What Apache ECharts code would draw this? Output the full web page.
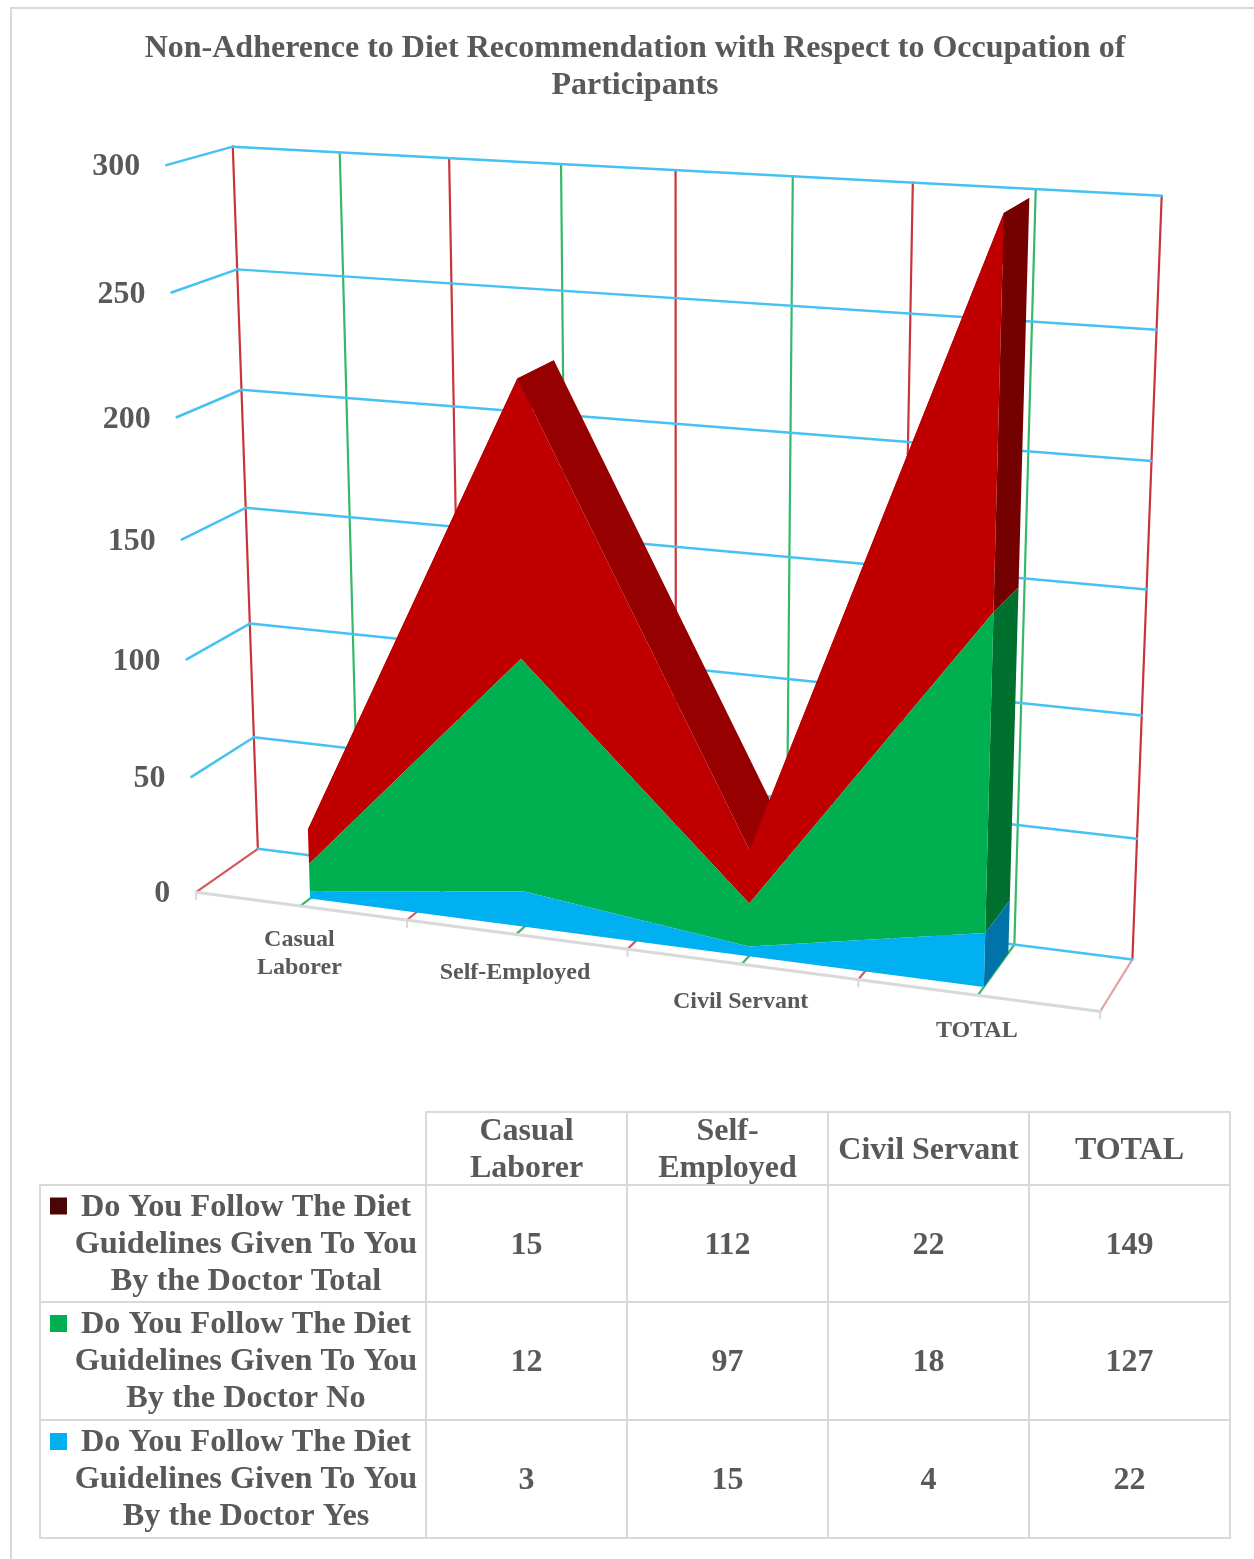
<!DOCTYPE html>
<html>
<head>
<meta charset="utf-8">
<title>Non-Adherence to Diet Recommendation</title>
<style>
  html, body { margin: 0; padding: 0; background: #fff; }
  #chart { width: 1254px; height: 1559px; }
</style>
<script src="https://cdn.jsdelivr.net/npm/echarts@6/dist/echarts.min.js"></script>
</head>
<body>
<div id="chart"></div>
<script>
// Survey counts by occupation
const categories = ['Casual Laborer', 'Self-Employed', 'Civil Servant', 'TOTAL'];
const axisLabels = ['Casual\nLaborer', 'Self-Employed', 'Civil Servant', 'TOTAL'];
const tableHeaders = ['Casual\nLaborer', 'Self-\nEmployed', 'Civil Servant', 'TOTAL'];
const yesValues = [3, 15, 4, 22];
const noValues = [12, 97, 18, 127];
const totalValues = [15, 112, 22, 149];
const valueTicks = [0, 50, 100, 150, 200, 250, 300];
const titleText = 'Non-Adherence to Diet Recommendation with Respect to Occupation of\nParticipants';
const yesLabel = ['Do You Follow The Diet', 'Guidelines Given To You', 'By the Doctor Yes'];
const noLabel = ['Do You Follow The Diet', 'Guidelines Given To You', 'By the Doctor No'];
const totalLabel = ['Do You Follow The Diet', 'Guidelines Given To You', 'By the Doctor Total'];

// Palette
const INK = '#595959';
const RULE = '#d9d9d9';
const GRID_BLUE = '#45c1f2';
const WALL_RED = '#c9333a';
const WALL_GREEN = '#36b868';
const FLOOR_RED = '#d4585c';
const FLOOR_PALE = '#e3a3a5';
const SERIF = '"Liberation Serif", "Times New Roman", serif';

// Flat plotting range of the hidden cartesian axes; the camera below tilts it into 3D.
const FLAT = { w: 400, h: 300, uMax: 4 };
const DEPTH_FRONT = 0.16;
const DEPTH_BACK = 0.83;

// Camera calibration: [u, v, w] box coordinates (u 0-4 across, v 0-1 up, w 0-1 deep) and where they land.
const CAMERA_ANCHORS = [
  [0, 0, 0, 195, 892], [4, 0, 0, 1100, 1012], [0, 0, 1, 258, 849], [4, 0, 1, 1132, 960],
  [0, 1, 1, 234, 146], [4, 1, 1, 1162, 195], [0, 1, 0, 166, 166], [2, 1, 1, 675, 170],
  [2, 0, 0, 630, 947], [1, 0, 0, 407, 920], [3, 0, 0, 858, 980], [0, 0.5, 1, 245.5, 508],
  [4, 0.5, 1, 1146, 590], [0, 0.5, 0, 181, 540]
];

function solveCamera(anchors) {
  const n = 11;
  const A = Array.from({ length: n }, () => new Array(n + 1).fill(0));
  const addRow = (r, b) => {
    for (let i = 0; i < n; i++) {
      for (let j = 0; j < n; j++) A[i][j] += r[i] * r[j];
      A[i][n] += r[i] * b;
    }
  };
  anchors.forEach(([u, v, w, sx, sy]) => {
    const x = u / 4, X = sx / 1000, Y = sy / 1000;
    addRow([x, v, w, 1, 0, 0, 0, 0, -X * x, -X * v, -X * w], X);
    addRow([0, 0, 0, 0, x, v, w, 1, -Y * x, -Y * v, -Y * w], Y);
  });
  for (let c = 0; c < n; c++) {
    let p = c;
    for (let r = c + 1; r < n; r++) if (Math.abs(A[r][c]) > Math.abs(A[p][c])) p = r;
    [A[c], A[p]] = [A[p], A[c]];
    for (let r = 0; r < n; r++) {
      if (r === c) continue;
      const f = A[r][c] / A[c][c];
      for (let k = c; k <= n; k++) A[r][k] -= f * A[c][k];
    }
  }
  return A.map((row, i) => row[n] / row[i]);
}
const CAM = solveCamera(CAMERA_ANCHORS);

// Takes a pixel from the flat axes plus a depth and returns its position on the tilted box.
function tilt(flat, w) {
  const x = flat[0] / FLAT.w;
  const v = (FLAT.h - flat[1]) / FLAT.h;
  const d = CAM[8] * x + CAM[9] * v + CAM[10] * w + 1;
  return [
    1000 * (CAM[0] * x + CAM[1] * v + CAM[2] * w + CAM[3]) / d,
    1000 * (CAM[4] * x + CAM[5] * v + CAM[6] * w + CAM[7]) / d
  ];
}

const seg = (a, b, stroke, lineWidth) => ({
  type: 'line',
  shape: { x1: a[0], y1: a[1], x2: b[0], y2: b[1] },
  style: { stroke, lineWidth, lineCap: 'round' }
});
const poly = (points, fill) => ({ type: 'polygon', shape: { points }, style: { fill } });
const label = (x, y, text, size, align, lineHeight) => ({
  type: 'text',
  style: {
    x, y, text, fill: INK, align: align || 'center', verticalAlign: 'middle',
    font: 'bold ' + size + 'px ' + SERIF, lineHeight: lineHeight || Math.round(size * 1.12)
  }
});

// Cumulative layers, bottom to top
const stackBlue = yesValues.map(v => v);
const stackGreen = yesValues.map((v, i) => v + noValues[i]);
const stackRed = stackGreen.map((v, i) => v + totalValues[i]);
const layers = [
  { lower: categories.map(() => 0), upper: stackBlue, front: '#00b0f0', end: '#0073a8' },
  { lower: stackBlue, upper: stackGreen, front: '#00b050', end: '#00702f' },
  { lower: stackGreen, upper: stackRed, front: '#c00000', end: '#750000', top: '#960000' }
];

// Walls, floor and gridlines behind the areas
function renderBox(params, api) {
  const at = (u, val, w) => tilt(api.coord([u, val]), w);
  const out = [];
  const vMax = valueTicks[valueTicks.length - 1];
  for (let u = 0; u <= 8; u++) {
    const pos = u / 2, odd = u % 2 === 1;
    out.push(seg(at(pos, 0, 1), at(pos, vMax, 1), odd ? WALL_GREEN : WALL_RED, 2.2));
    const floorColour = odd ? WALL_GREEN : (u === 8 ? FLOOR_PALE : FLOOR_RED);
    out.push(seg(at(pos, 0, 0), at(pos, 0, 1), floorColour, 2.2));
  }
  valueTicks.forEach(t => {
    out.push(seg(at(0, t, 1), at(4, t, 1), GRID_BLUE, 2.5));
    if (t > 0) out.push(seg(at(0, t, 0), at(0, t, 1), GRID_BLUE, 2.5));
  });
  out.push(seg(at(0, 0, 0), at(4, 0, 0), RULE, 3));
  for (let u = 0; u <= 4; u++) {
    const p = at(u, 0, 0);
    out.push(seg(p, [p[0], p[1] + 7], RULE, 2));
  }
  return { type: 'group', children: out };
}

// Sloped top of the uppermost layer, seen behind its front face
function renderTop(params, api) {
  const layer = layers[2];
  const children = [];
  for (let i = 0; i < categories.length - 1; i++) {
    const a = api.coord([i + 0.5, layer.upper[i]]);
    const b = api.coord([i + 1.5, layer.upper[i + 1]]);
    children.push(poly([tilt(a, DEPTH_FRONT), tilt(a, DEPTH_BACK), tilt(b, DEPTH_BACK), tilt(b, DEPTH_FRONT)], layer.top));
  }
  return { type: 'group', children };
}

// One front face and the end cap at the last category
function renderLayer(params, api) {
  const layer = layers[api.value(0)];
  const n = categories.length;
  const upper = layer.upper.map((v, i) => tilt(api.coord([i + 0.5, v]), DEPTH_FRONT));
  const lower = layer.lower.map((v, i) => tilt(api.coord([i + 0.5, v]), DEPTH_FRONT)).reverse();
  const lastHi = api.coord([n - 0.5, layer.upper[n - 1]]);
  const lastLo = api.coord([n - 0.5, layer.lower[n - 1]]);
  return {
    type: 'group',
    children: [
      poly([tilt(lastHi, DEPTH_FRONT), tilt(lastHi, DEPTH_BACK), tilt(lastLo, DEPTH_BACK), tilt(lastLo, DEPTH_FRONT)], layer.end),
      poly(upper.concat(lower), layer.front)
    ]
  };
}

// Value and category labels placed next to the front edge of the box
const CATEGORY_LABEL_DROP = [39, 38, 38, 35];
function renderAxisText(params, api) {
  const out = [];
  valueTicks.forEach(t => {
    const p = tilt(api.coord([0, t]), 0);
    out.push(label(p[0] - 26, p[1] + 2, String(t), 32, 'right'));
  });
  axisLabels.forEach((name, i) => {
    const p = tilt(api.coord([i + 0.5, 0]), 0);
    const lines = name.split('\n').length;
    out.push(label(p[0] - 1, p[1] + CATEGORY_LABEL_DROP[i] + (lines - 1) * 9, name, 24, 'center', 28));
  });
  return { type: 'group', children: out };
}

// Data table under the chart
const TABLE = { x: [40, 426, 627, 828, 1029, 1230], y: [1112, 1185, 1302, 1420, 1538], lineStep: 37, keyX: 50, keySize: 17 };
const tableRows = [
  { lines: totalLabel, values: totalValues, key: '#4a0505' },
  { lines: noLabel, values: noValues, key: '#00b050' },
  { lines: yesLabel, values: yesValues, key: '#00b0f0' }
];

function renderTable() {
  const { x, y, lineStep, keyX, keySize } = TABLE;
  const out = [];
  const lastX = x[x.length - 1], lastY = y[y.length - 1];
  out.push(seg([x[1], y[0]], [lastX, y[0]], RULE, 2));
  y.slice(1).forEach(v => out.push(seg([x[0], v], [lastX, v], RULE, 2)));
  out.push(seg([x[0], y[1]], [x[0], lastY], RULE, 2));
  x.slice(1).forEach(v => out.push(seg([v, y[0]], [v, lastY], RULE, 2)));

  const mid = i => (x[i] + x[i + 1]) / 2;
  tableHeaders.forEach((h, c) => {
    const cy = (y[0] + y[1]) / 2;
    const parts = h.split('\n');
    parts.forEach((t, k) => out.push(label(mid(c + 1), cy + 2 + (k - (parts.length - 1) / 2) * lineStep, t, 32)));
  });
  tableRows.forEach((row, r) => {
    const cy = (y[r + 1] + y[r + 2]) / 2;
    row.lines.forEach((t, k) => out.push(label(246, cy + 1 + (k - 1) * lineStep, t, 32.3)));
    out.push({
      type: 'rect',
      shape: { x: keyX, y: cy - lineStep - keySize / 2 - 0.5, width: keySize, height: keySize },
      style: { fill: row.key }
    });
    row.values.forEach((v, c) => out.push(label(mid(c + 1), cy + 2, String(v), 32)));
  });
  return { type: 'group', children: out };
}

// Chart frame: only its top and left edges fall on the page
function renderFrame() {
  return {
    type: 'group',
    children: [seg([11, 8], [1254, 8], RULE, 2), seg([11, 8], [11, 1559], RULE, 2)]
  };
}

const chart = echarts.init(document.getElementById('chart'), null, { renderer: 'canvas' });
const onAxes = { type: 'custom', coordinateSystem: 'cartesian2d', silent: true, clip: false };
chart.setOption({
  animation: false,
  backgroundColor: '#ffffff',
  title: {
    text: titleText,
    left: 630,
    top: 25,
    textAlign: 'center',
    textStyle: { fontFamily: SERIF, fontWeight: 'bold', fontSize: 32, color: INK, lineHeight: 37 }
  },
  grid: { left: 0, top: 0, width: FLAT.w, height: FLAT.h, containLabel: false },
  xAxis: { type: 'value', min: 0, max: FLAT.uMax, show: false },
  yAxis: { type: 'value', min: 0, max: valueTicks[valueTicks.length - 1], show: false },
  series: [
    { type: 'custom', coordinateSystem: 'none', silent: true, z: 1, renderItem: renderFrame, data: [[0]] },
    { ...onAxes, z: 2, renderItem: renderBox, data: [[0]] },
    { ...onAxes, z: 3, renderItem: renderTop, data: [[0]] },
    { ...onAxes, z: 4, renderItem: renderLayer, data: [[2]] },
    { ...onAxes, z: 5, renderItem: renderLayer, data: [[1]] },
    { ...onAxes, z: 6, renderItem: renderLayer, data: [[0]] },
    { ...onAxes, z: 7, renderItem: renderAxisText, data: [[0]] },
    { type: 'custom', coordinateSystem: 'none', silent: true, z: 8, renderItem: renderTable, data: [[0]] }
  ]
});
</script>
</body>
</html>
